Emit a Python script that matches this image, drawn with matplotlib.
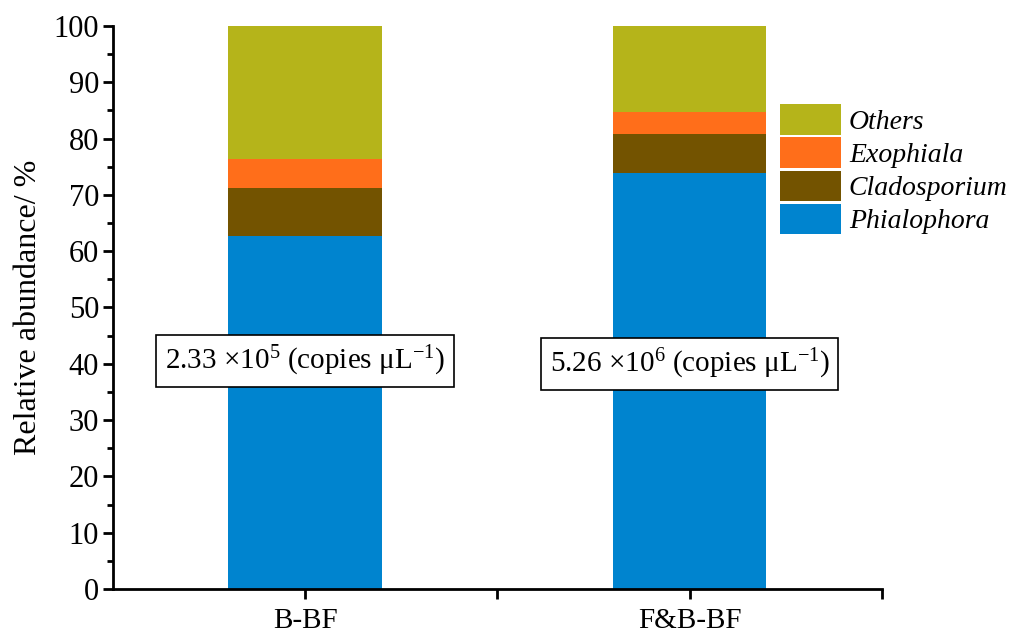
import numpy as np
import matplotlib
matplotlib.use("Agg")
import matplotlib.pyplot as plt

plt.rcParams['font.family'] = ['Liberation Serif', 'DejaVu Serif']
plt.rcParams['mathtext.fontset'] = 'custom'
plt.rcParams['mathtext.rm'] = 'Liberation Serif'
plt.rcParams['mathtext.it'] = 'Liberation Serif:italic'

# 数据
samples = ["B-BF", "F&B-BF"]
genera = ["Phialophora", "Cladosporium", "Exophiala", "Others"]
phialophora = [62.7, 73.8]
cladosporium = [8.6, 7.0]
exophiala = [5.1, 3.9]
others = [23.6, 15.3]
copies = ["2.33 $\\times$10$^{5}$ (copies μL$^{-1}$)", "5.26 $\\times$10$^{6}$ (copies μL$^{-1}$)"]

colors = ["#0084CF", "#735300", "#FF6E1A", "#B5B41A"]

fig = plt.figure(figsize=(10.1, 6.34), dpi=100)
ax = fig.add_axes([0.112, 0.071, 0.761, 0.888])

x = np.arange(1, len(samples) + 1)
bottom = np.zeros(len(samples))
handles = []
for vals, name, c in zip([phialophora, cladosporium, exophiala, others], genera, colors):
    h = ax.bar(x, vals, width=0.4, bottom=bottom, color=c, label=name)
    handles.append(h)
    bottom += np.array(vals)

ax.set_xlim(0.5, 2.5)
ax.set_ylim(0, 100)
ax.set_yticks(np.arange(0, 101, 10))
ax.set_yticks(np.arange(5, 100, 10), minor=True)
ax.set_xticks(x)
ax.set_xticklabels(samples)
ax.set_xticks([1.5, 2.5], minor=True)

for s in ["top", "right"]:
    ax.spines[s].set_visible(False)
for s in ["left", "bottom"]:
    ax.spines[s].set_linewidth(2)

ax.tick_params(axis="y", which="major", length=7, width=2, labelsize=22, pad=3)
ax.tick_params(axis="y", which="minor", length=4, width=2)
ax.tick_params(axis="x", which="both", length=7, width=2, labelsize=21, pad=7)

ax.set_ylabel("Relative abundance/ %", fontsize=23, labelpad=8)

# 拷贝数标注
for xi, txt, yy in zip(x, copies, [40.5, 40.0]):
    ax.text(xi, yy, txt, ha="center", va="center", fontsize=21,
            bbox=dict(boxstyle="square,pad=0.3", facecolor="white", edgecolor="black", linewidth=1.2))

# 图例（倒序）
leg = ax.legend(handles[::-1], genera[::-1], loc="upper left", bbox_to_anchor=(0.867, 0.861),
                frameon=False, prop={"style": "italic", "size": 20},
                handlelength=2.2, handleheight=1.3, handletextpad=0.3, labelspacing=0.1,
                borderaxespad=0, borderpad=0)

fig.savefig("out.png", dpi=100)
